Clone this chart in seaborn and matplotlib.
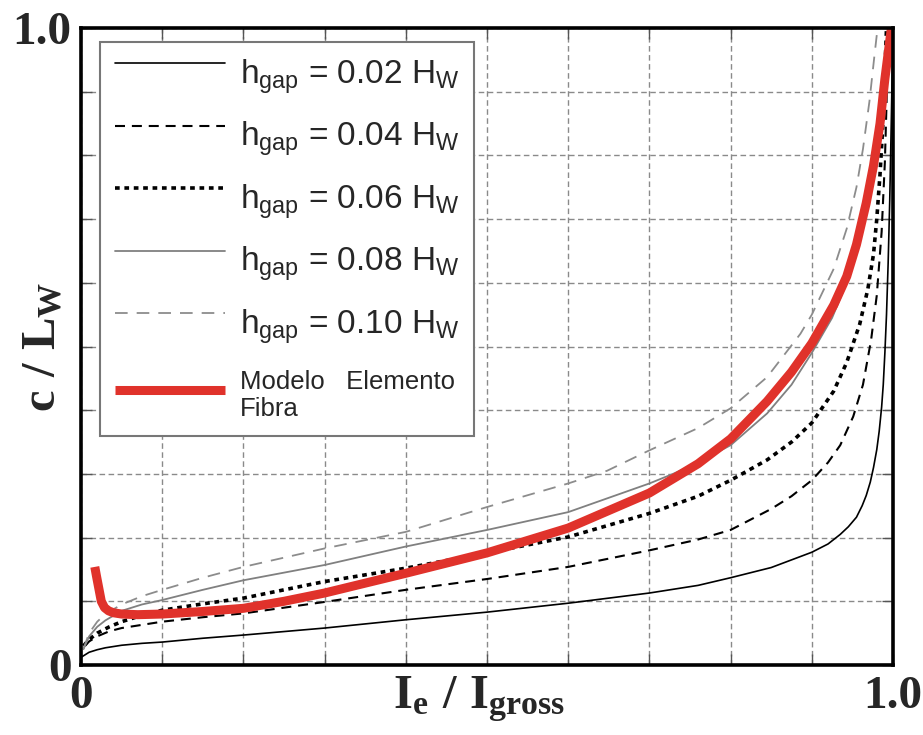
import matplotlib
matplotlib.use("Agg")
import matplotlib.pyplot as plt
from matplotlib.legend_handler import HandlerLine2D
import seaborn as sns
import numpy as np

# ---- data ----
x_002 = [0.0, 0.005, 0.01, 0.02, 0.03, 0.05, 0.075, 0.1, 0.15, 0.2, 0.3, 0.4, 0.5, 0.6, 0.7, 0.76, 0.8,
         0.85, 0.9, 0.92, 0.935, 0.945, 0.955, 0.962, 0.967, 0.972, 0.976, 0.98, 0.983, 0.986, 0.988,
         0.99, 0.992, 0.994, 0.996, 0.998, 1.0]
y_002 = [0.012, 0.016, 0.02, 0.024, 0.027, 0.031, 0.034, 0.036, 0.042, 0.047, 0.058, 0.071, 0.083, 0.097,
         0.113, 0.125, 0.137, 0.153, 0.177, 0.19, 0.205, 0.217, 0.232, 0.25, 0.266, 0.287, 0.31, 0.338,
         0.367, 0.405, 0.44, 0.49, 0.55, 0.63, 0.73, 0.86, 1.0]

x_004 = [0.005, 0.01, 0.02, 0.035, 0.05, 0.075, 0.1, 0.15, 0.2, 0.3, 0.4, 0.5, 0.6, 0.7, 0.76, 0.8, 0.85,
         0.875, 0.9, 0.92, 0.935, 0.951, 0.963, 0.973, 0.98, 0.986, 0.99, 0.992, 0.994]
y_004 = [0.03, 0.037, 0.045, 0.053, 0.058, 0.063, 0.068, 0.075, 0.081, 0.099, 0.118, 0.135, 0.154, 0.18,
         0.197, 0.212, 0.245, 0.265, 0.29, 0.318, 0.345, 0.39, 0.44, 0.51, 0.58, 0.68, 0.79, 0.88, 1.0]

x_006 = [0.003, 0.01, 0.02, 0.035, 0.05, 0.075, 0.1, 0.15, 0.2, 0.3, 0.4, 0.5, 0.6, 0.7, 0.76, 0.8, 0.845,
         0.875, 0.9, 0.927, 0.943, 0.959, 0.969, 0.976, 0.98, 0.984, 0.988, 0.99, 0.992]
y_006 = [0.03, 0.04, 0.05, 0.06, 0.068, 0.078, 0.086, 0.096, 0.105, 0.131, 0.152, 0.176, 0.201, 0.238,
         0.265, 0.29, 0.322, 0.35, 0.38, 0.43, 0.475, 0.535, 0.59, 0.645, 0.7, 0.77, 0.86, 0.93, 1.0]

x_008 = [0.003, 0.01, 0.02, 0.03, 0.05, 0.075, 0.1, 0.15, 0.2, 0.3, 0.4, 0.5, 0.6, 0.7, 0.729, 0.76, 0.8,
         0.845, 0.875, 0.9, 0.925, 0.943, 0.955, 0.967, 0.976, 0.984, 0.99, 0.994, 0.997]
y_008 = [0.025, 0.045, 0.06, 0.07, 0.085, 0.095, 0.102, 0.118, 0.133, 0.157, 0.186, 0.212, 0.24, 0.285,
         0.3, 0.318, 0.345, 0.395, 0.44, 0.49, 0.545, 0.6, 0.65, 0.715, 0.775, 0.85, 0.92, 0.96, 1.0]

x_010 = [0.003, 0.01, 0.02, 0.03, 0.05, 0.075, 0.1, 0.15, 0.2, 0.3, 0.4, 0.5, 0.6, 0.648, 0.7, 0.76, 0.8,
         0.845, 0.886, 0.9, 0.927, 0.943, 0.955, 0.963, 0.971, 0.977, 0.981]
y_010 = [0.025, 0.05, 0.068, 0.08, 0.095, 0.108, 0.118, 0.137, 0.154, 0.183, 0.209, 0.248, 0.285, 0.305,
         0.337, 0.372, 0.403, 0.452, 0.52, 0.55, 0.622, 0.685, 0.75, 0.81, 0.885, 0.955, 1.0]

x_fib = [0.017, 0.019, 0.022, 0.025, 0.029, 0.034, 0.04, 0.05, 0.07, 0.1, 0.15, 0.2, 0.25, 0.3, 0.4, 0.5,
         0.6, 0.7, 0.76, 0.8, 0.845, 0.875, 0.9, 0.927, 0.943, 0.955, 0.967, 0.976, 0.984, 0.99, 0.995, 0.998]
y_fib = [0.154, 0.14, 0.12, 0.1, 0.09, 0.085, 0.082, 0.08, 0.079, 0.08, 0.084, 0.089, 0.1, 0.113, 0.144,
         0.176, 0.215, 0.27, 0.316, 0.355, 0.414, 0.46, 0.505, 0.565, 0.61, 0.66, 0.725, 0.784, 0.85, 0.92,
         0.97, 1.0]

labels = [r"h$_{gap}$ = 0.02 H$_W$",
          r"h$_{gap}$ = 0.04 H$_W$",
          r"h$_{gap}$ = 0.06 H$_W$",
          r"h$_{gap}$ = 0.08 H$_W$",
          r"h$_{gap}$ = 0.10 H$_W$",
          "Modelo   Elemento\nFibra"]
xtick_vals = [0.0, 1.0]
xtick_labels = ["0", "1.0"]
ytick_vals = [0.0, 1.0]
ytick_labels = ["0", "1.0"]

# ---- style ----
sns.set_style("white")
plt.rcParams["font.family"] = ["Liberation Sans", "DejaVu Sans"]
plt.rcParams["mathtext.fontset"] = "custom"
plt.rcParams["mathtext.rm"] = "Liberation Sans"
plt.rcParams["mathtext.it"] = "Liberation Sans:italic"
plt.rcParams["mathtext.bf"] = "Liberation Serif:bold"
plt.rcParams["mathtext.default"] = "regular"

fig = plt.figure(figsize=(9.23, 7.35), dpi=100)
ax = fig.add_axes([81 / 923, 1 - 665 / 735, 812 / 923, 637 / 735])

series = [
    (x_002, y_002, dict(color="black", lw=1.2, linestyle="-")),
    (x_004, y_004, dict(color="black", lw=1.5, linestyle=(0, (4.8, 3.3)))),
    (x_006, y_006, dict(color="black", lw=2.6, linestyle=(0, (1.3, 1.3)))),
    (x_008, y_008, dict(color="#808080", lw=1.3, linestyle="-")),
    (x_010, y_010, dict(color="#8c8c8c", lw=1.3, linestyle=(0, (7, 5)))),
    (x_fib, y_fib, dict(color="#e0322b", lw=6.5, linestyle="-", solid_capstyle="butt",
                        solid_joinstyle="round")),
]
for (xs, ys, kw), lab in zip(series, labels):
    sns.lineplot(x=xs, y=ys, ax=ax, label=lab, sort=False, estimator=None, **kw)

ax.set_xlim(0, 1)
ax.set_ylim(0, 1)

grid = np.round(np.arange(0, 1.01, 0.1), 2)
ax.set_xticks(grid)
ax.set_yticks(grid)
ax.set_xticklabels([xtick_labels[xtick_vals.index(v)] if v in xtick_vals else "" for v in grid])
ax.set_yticklabels([ytick_labels[ytick_vals.index(v)] if v in ytick_vals else "" for v in grid])
ax.grid(True, color="#8a8a8a", lw=1.0, linestyle=(0, (4, 2.5)))
ax.set_axisbelow(True)
ax.tick_params(direction="in", length=8, width=1, color="#555555",
               top=True, right=True, bottom=True, left=True)
ax.tick_params(axis="x", pad=8)
ax.tick_params(axis="y", pad=7)
for t in ax.get_xticklabels() + ax.get_yticklabels():
    t.set_fontfamily("Liberation Serif")
    t.set_fontweight("bold")
    t.set_fontsize(34)
for s in ax.spines.values():
    s.set_linewidth(2.6)
    s.set_color("black")

ax.set_xlabel(r"$\mathbf{I_e\ /\ I_{gross}}$", fontsize=35)
ax.set_ylabel(r"$\mathbf{c\ /\ L_W}$", fontsize=35)
ax.xaxis.set_label_coords(0.49, -0.015)
ax.yaxis.set_label_coords(-0.02, 0.5)


class ShiftedLine(HandlerLine2D):
    def __init__(self, dy, **kw):
        super().__init__(**kw)
        self.dy = dy

    def create_artists(self, legend, orig_handle, xdescent, ydescent, width, height, fontsize, trans):
        arts = super().create_artists(legend, orig_handle, xdescent, ydescent, width, height,
                                      fontsize, trans)
        for a in arts:
            a.set_ydata(np.asarray(a.get_ydata(), dtype=float) + self.dy)
        return arts


h, l = ax.get_legend_handles_labels()
hmap = {hh: ShiftedLine(6 if i < 5 else 2) for i, hh in enumerate(h)}
leg = ax.legend(h, l, loc="upper left", bbox_to_anchor=(0.023, 0.978), borderaxespad=0,
                fontsize=24, handlelength=3.3, handletextpad=0.45, labelspacing=0.72,
                borderpad=0.45, fancybox=False, framealpha=1, edgecolor="#777777",
                handler_map=hmap)
leg.get_frame().set_linewidth(1.5)
leg.get_texts()[5].set_fontsize(18.5)

fig.savefig("out.png", dpi=100)
